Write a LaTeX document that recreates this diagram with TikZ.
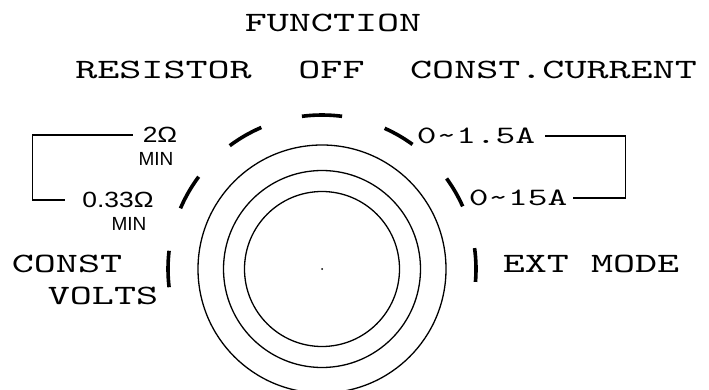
\documentclass[tikz,border=0pt]{standalone}
\usepackage{fontspec}
\newfontfamily\typefont[FakeStretch=1.5]{lmmono10-regular.otf}
\newfontfamily\dialfont[FakeStretch=1.2]{Liberation Sans}
\newfontfamily\plainsans{Liberation Sans}
\usetikzlibrary{calc}
\tikzset{
  lbl/.style={inner sep=0pt,font=\typefont\fontsize{28}{28}\selectfont},
  amp/.style={inner sep=0pt,font=\typefont\fontsize{25}{25}\selectfont},
  ohm/.style={inner sep=0pt,font=\dialfont\fontsize{22}{22}\selectfont},
  minl/.style={inner sep=0pt,font=\plainsans\fontsize{19}{19}\selectfont},
  ring/.style={line width=1.3pt},
  tickm/.style={line width=3.6pt},
  brk/.style={line width=1.5pt},
}
\begin{document}
\begin{tikzpicture}[x=1pt,y=-1pt]
\clip (0,0) rectangle (709,390);
\fill[white] (0,0) rectangle (709,390);
% knob
\coordinate (c) at (322,269);
\foreach \rr in {124,98.5,77.5} \draw[ring] (c) circle (\rr);
\fill (c) circle (1pt);
% switch positions
\foreach \aa/\ss in {180/6.8,150/6.8,120/6.8,90/7.5,60/6,30/6,1.5/6.3}
  \draw[tickm] ([shift={(-\aa-\ss:154)}]c) arc[start angle=-\aa-\ss,end angle=-\aa+\ss,radius=154];
% labels
\node[lbl] (func) at (333,23) {FUNCTION};
\node[lbl] (res) at (163.5,69.5) {RESISTOR};
\node[lbl] (off) at (331.5,70) {OFF};
\node[lbl] (cc) at (553.5,70) {CONST.CURRENT};
\node[lbl] (cv1) at (67,264) {CONST};
\node[lbl] (cv2) at (103,296) {VOLTS};
\node[lbl] (ext) at (591,264) {EXT MODE};
\node[ohm] (r2) at (160,135) {2Ω};
\node[minl] (r2m) at (156,159) {MIN};
\node[ohm] (r033) at (118,200) {0.33Ω};
\node[minl] (r033m) at (129,224) {MIN};
\node[amp] (a15) at (476,136) {0\textasciitilde1.5A};
\node[amp] (a150) at (518,198) {0\textasciitilde15A};
% brackets
\draw[brk] ([xshift=-10pt]r2.west) -- ++(-100,0) |- ([xshift=-17pt]r033.west);
\draw[brk] ([xshift=10pt]a15.east) -- ++(80,0) |- ([xshift=6pt]a150.east);
\end{tikzpicture}
\end{document}
